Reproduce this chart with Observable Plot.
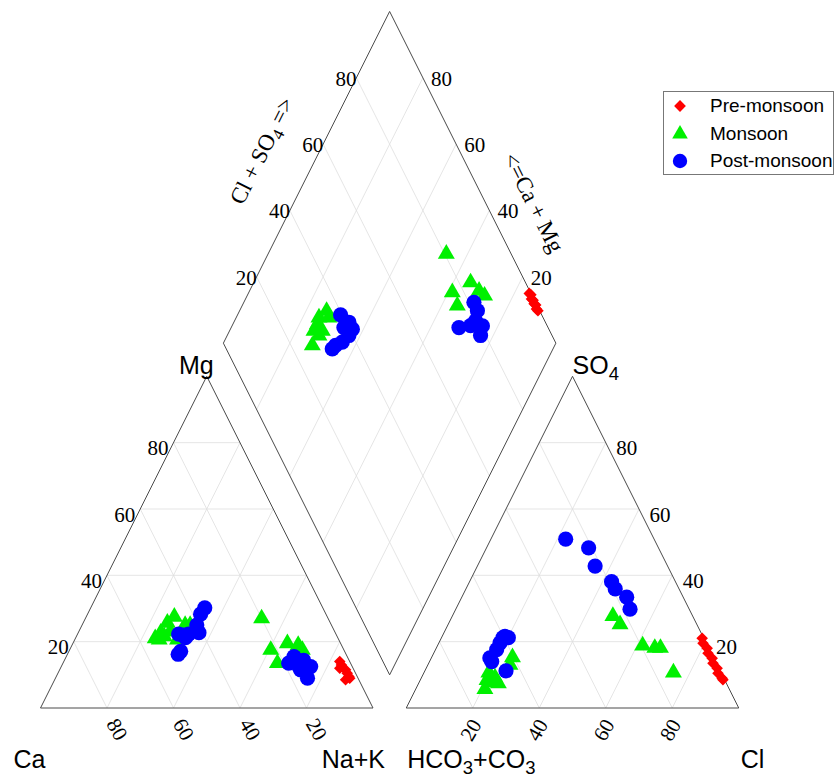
<!DOCTYPE html>
<html><head><meta charset="utf-8">
<script src="https://cdn.jsdelivr.net/npm/d3@7"></script>
<script src="https://cdn.jsdelivr.net/npm/@observablehq/plot@0.6"></script>
<style>
body{margin:0;background:#fff;}
#wrap{position:relative;width:836px;height:779px;overflow:hidden;}
#wrap svg{display:block;}
#legend{position:absolute;left:663px;top:91px;width:171px;height:84px;border:1px solid #777;box-sizing:border-box;background:#fff;font-family:"Liberation Sans",Arial,sans-serif;font-size:19px;color:#000;}
#legend .row{position:absolute;left:0;height:20px;line-height:20px;}
#legend .row span{position:absolute;left:46px;top:0;white-space:nowrap;}
#legend .row svg{position:absolute;left:6px;top:0;}
</style></head><body><div id="wrap"><div id="legend"></div></div>
<script>
// ---------- data ----------
const tickValues = [20, 40, 60, 80];
const seasons = ["Pre-monsoon", "Monsoon", "Post-monsoon"];
const seasonColors = ["#ff0000", "#00f000", "#0000ff"];
const seasonSymbols = ["diamond2", "triangle", "circle"];
const seasonRadius = [5.2, 6.3, 7.6];

// cation triangle: [Ca, Mg, Na+K] (%)
const preCations = [[3,14,83],[3,13,84],[4,12,84],[2.5,11.5,86],[2.5,10.5,87],[2.5,9.5,88],[4,8.5,87.5],[2.5,9,88.5]];
const monCations = [[46,27.5,26.5],[49,25.7,25.3],[52.5,22.7,24.8],[55,21,24],[54,20.6,25.4],[52,21.6,26.4],[44,25,31],[42.5,25,32.5],[48.5,20.6,30.9],[49.5,23,27.5],
  [20,27,53],[22,17.5,60.5],[22,13.5,64.5],[16,19.5,64.5],[13,19,68],[12.5,17.5,70]];
const postCations = [[35.5,30.2,34.3],[37.7,28.3,34],[40.5,25,34.5],[41,22.7,36.3],[44.3,22.3,33.4],[46,22,32],[47.3,22.3,30.4],[45.8,21.2,33],[50.5,16.2,33.3],[49.3,17.1,33.6],
  [16,15.5,68.5],[18.6,13.5,67.9],[16,12.4,71.6],[12.5,12.5,75],[15.2,9,75.8],[16,11.5,72.5],[13.7,14.4,71.9]];

// anion triangle: [HCO3+CO3, SO4, Cl] (%)
const preAnions = [[0.5,21,78.5],[1,19.5,79.5],[0.5,18,81.5],[1,16.5,82.5],[0.5,15,84.5],[1,13.5,85.5],[0.5,12,87.5],[1,10.5,88.5],[0.5,9,90.5],[0.5,8.5,91]];
const monAnions = [[60.4,15.3,24.3],[62.3,13,24.7],[69.8,10.7,19.5],[68.7,9.2,22.1],[70.3,7.8,21.9],[68.6,7.4,24],[73.5,5.7,20.8],[71.5,8.4,20.1],
  [24,27.7,48.3],[23.1,25.2,51.7],[19.5,18.8,61.7],[16.2,18.1,65.7],[14.5,18.1,67.4],[14.3,10.7,75]];
const postAnions = [[60.3,21.2,18.5],[58.7,21.2,20.1],[62,19.6,18.4],[64,17.6,18.4],[67.3,15.1,17.6],[67.3,14,18.7],[64.4,11.2,24.4],[59.5,21.6,18.9],
  [26.6,50.9,22.5],[21,48.3,30.7],[21.8,42.8,35.4],[19.2,38.1,42.7],[19.2,35.9,44.9],[17,33.4,49.6],[17.8,29.8,52.4]];

// diamond: [Ca+Mg, Cl+SO4] (%)
const preDiamond = [[15.5,99.5],[14.8,99.8],[14,99.3],[13.3,99.6],[12.5,99.4],[11.8,99.7],[11,99.3],[10.3,99.5]];
const monDiamond = [[73.8,35.9],[75.1,32.6],[74.6,31.1],[74.6,29.1],[72.4,29.9],[72.9,26.4],[72.1,31.6],[72.1,35.6],
  [46.4,80.5],[38.8,76.5],[35.3,76],[34.8,83.5],[31,84.8],[28.6,85.7]];
const postDiamond = [[69,39.5],[65.4,40.9],[63.3,40.9],[63.4,38.9],[64.4,35.9],[65.9,33.4],[66.4,31.9],[66.1,38.6],
  [30.8,81.5],[28.5,81.3],[27.5,79.2],[31.5,73.2],[24.7,80.5],[23.8,78.5],[28.3,77]];

const cornerLabels = ["Ca", "Na+K", "Mg", "HCO_3+CO_3", "Cl", "SO_4"];
const diamondTitles = ["Cl + SO_4 =>", "<=Ca + Mg"];

// ---------- geometry (ternary -> plane units) ----------
const H = Math.sqrt(3) / 2, GAP = 10;
function cationXY([ca, mg, na]) { const t = ca + mg + na; mg = 100 * mg / t; na = 100 * na / t; return [na + mg / 2, mg * H]; }
function anionXY([hc, so4, cl]) { const t = hc + so4 + cl; so4 = 100 * so4 / t; cl = 100 * cl / t; return [100 + GAP + cl + so4 / 2, so4 * H]; }
function diamondXY([camg, clso4]) { return [100 + GAP / 2 + (clso4 - camg) / 2, GAP * H + (camg + clso4) * H]; }
const seg = (a, b) => ({x1: a[0], y1: a[1], x2: b[0], y2: b[1]});
const pt = (p, extra) => Object.assign({x: p[0], y: p[1]}, extra);

const grid = [];
for (const v of tickValues) {
  grid.push(seg(cationXY([100 - v, v, 0]), cationXY([0, v, 100 - v])));
  grid.push(seg(cationXY([v, 0, 100 - v]), cationXY([v, 100 - v, 0])));
  grid.push(seg(cationXY([100 - v, 0, v]), cationXY([0, 100 - v, v])));
  grid.push(seg(anionXY([100 - v, v, 0]), anionXY([0, v, 100 - v])));
  grid.push(seg(anionXY([v, 0, 100 - v]), anionXY([v, 100 - v, 0])));
  grid.push(seg(anionXY([100 - v, 0, v]), anionXY([0, 100 - v, v])));
  grid.push(seg(diamondXY([0, v]), diamondXY([100, v])));
  grid.push(seg(diamondXY([v, 0]), diamondXY([v, 100])));
}
const outline = [
  seg(cationXY([100,0,0]), cationXY([0,0,100])), seg(cationXY([0,0,100]), cationXY([0,100,0])), seg(cationXY([0,100,0]), cationXY([100,0,0])),
  seg(anionXY([100,0,0]), anionXY([0,0,100])), seg(anionXY([0,0,100]), anionXY([0,100,0])), seg(anionXY([0,100,0]), anionXY([100,0,0])),
  seg(diamondXY([0,0]), diamondXY([100,0])), seg(diamondXY([100,0]), diamondXY([100,100])),
  seg(diamondXY([100,100]), diamondXY([0,100])), seg(diamondXY([0,100]), diamondXY([0,0]))
];

const groups = [[preCations, preAnions, preDiamond], [monCations, monAnions, monDiamond], [postCations, postAnions, postDiamond]];
const points = [];
groups.forEach(([c, a, d], i) => {
  c.forEach(v => points.push(pt(cationXY(v), {season: seasons[i]})));
  a.forEach(v => points.push(pt(anionXY(v), {season: seasons[i]})));
  d.forEach(v => points.push(pt(diamondXY(v), {season: seasons[i]})));
});

const lbl = (p, v) => pt(p, {label: String(v)});
const mgTicks = tickValues.map(v => lbl(cationXY([100 - v, v, 0]), v));
const caTicks = tickValues.map(v => lbl(cationXY([v, 0, 100 - v]), v));
const so4Ticks = tickValues.map(v => lbl(anionXY([0, v, 100 - v]), v));
const clTicks = tickValues.map(v => lbl(anionXY([100 - v, 0, v]), v));
const dLeftTicks = tickValues.map(v => lbl(diamondXY([100, v]), v));
const dRightTicks = tickValues.map(v => lbl(diamondXY([v, 100]), v));

const corners = [
  pt(cationXY([100,0,0]), {label: cornerLabels[0], anchor: "start", dx: -27}),
  pt(cationXY([0,0,100]), {label: cornerLabels[1], anchor: "end", dx: 12}),
  pt(anionXY([100,0,0]), {label: cornerLabels[3], anchor: "start", dx: 1}),
  pt(anionXY([0,0,100]), {label: cornerLabels[4], anchor: "start", dx: 2})
];
const tops = [
  pt(cationXY([0,100,0]), {label: cornerLabels[2], anchor: "end", dx: 7}),
  pt(anionXY([0,100,0]), {label: cornerLabels[5], anchor: "start", dx: 0})
];

const serif = "'Liberation Serif','Times New Roman',serif";
const sans = "'Liberation Sans',Arial,sans-serif";
const tickFont = {fontFamily: serif, fontSize: 21, fill: "#000"};

const chart = Plot.plot({
  width: 836, height: 779, margin: 0,
  x: {domain: [0, 210], range: [40, 738.25], axis: null},
  y: {domain: [0, 180], range: [707.5, 707.5 - 180 * 3.83], axis: null},
  style: {background: "#fff", overflow: "visible"},
  marks: [
    Plot.link(grid, {x1: "x1", y1: "y1", x2: "x2", y2: "y2", stroke: "#dedede", strokeWidth: 0.8}),
    Plot.link(outline, {x1: "x1", y1: "y1", x2: "x2", y2: "y2", stroke: "#4a4a4a", strokeWidth: 1}),
    ...seasons.map((s, i) => Plot.dot(points.filter(p => p.season === s), {
      x: "x", y: "y", symbol: seasonSymbols[i], fill: seasonColors[i], r: seasonRadius[i]
    })),
    Plot.text(mgTicks, {x: "x", y: "y", text: "label", textAnchor: "end", dx: -5, dy: 6, ...tickFont}),
    Plot.text(so4Ticks, {x: "x", y: "y", text: "label", textAnchor: "start", dx: 10.5, dy: 6, ...tickFont}),
    Plot.text(caTicks, {x: "x", y: "y", text: "label", textAnchor: "start", rotate: 60, dx: 4.7, dy: 12.5, ...tickFont}),
    Plot.text(clTicks, {x: "x", y: "y", text: "label", textAnchor: "end", rotate: -60, dx: 3.6, dy: 13, ...tickFont}),
    Plot.text(dLeftTicks, {x: "x", y: "y", text: "label", textAnchor: "end", dx: 0, dy: 1, ...tickFont}),
    Plot.text(dRightTicks, {x: "x", y: "y", text: "label", textAnchor: "start", dx: 8, dy: 1, ...tickFont}),
    Plot.text([pt(diamondXY([100, 51]), {label: diamondTitles[0]})], {x: "x", y: "y", text: "label", rotate: -63.4, dx: -46, dy: -23, fontFamily: serif, fontSize: 23, fill: "#000"}),
    Plot.text([pt(diamondXY([36.6, 100]), {label: diamondTitles[1]})], {x: "x", y: "y", text: "label", rotate: 63.4, dx: 38.3, dy: -19, fontFamily: serif, fontSize: 23, fill: "#000"}),
    ...corners.map(c => Plot.text([c], {x: "x", y: "y", text: "label", textAnchor: c.anchor, dx: c.dx, dy: 52, fontFamily: sans, fontSize: 25, fill: "#000"})),
    ...tops.map(c => Plot.text([c], {x: "x", y: "y", text: "label", textAnchor: c.anchor, dx: c.dx, dy: -10, fontFamily: sans, fontSize: 25, fill: "#000"}))
  ]
});
const wrap = document.getElementById("wrap");
wrap.insertBefore(chart, wrap.firstChild);

// subscripts: "_d" -> subscript tspan
for (const t of chart.querySelectorAll("text")) {
  const s = t.textContent;
  if (!s.includes("_")) continue;
  const fs = parseFloat(getComputedStyle(t).fontSize) || 20;
  t.textContent = "";
  const parts = s.split(/_(\w)/);
  parts.forEach((p, i) => {
    if (!p) return;
    const ts = document.createElementNS("http://www.w3.org/2000/svg", "tspan");
    ts.textContent = p;
    if (i % 2 === 1) { ts.setAttribute("font-size", (fs * 0.74).toFixed(1)); ts.setAttribute("dy", (fs * 0.22).toFixed(1)); }
    else if (i > 0) { ts.setAttribute("dy", (-fs * 0.22).toFixed(1)); }
    t.appendChild(ts);
  });
}

// legend
const legend = document.getElementById("legend");
const legendTops = [4, 32, 59];
seasons.forEach((s, i) => {
  const row = document.createElement("div");
  row.className = "row";
  row.style.top = legendTops[i] + "px";
  const sym = {diamond2: d3.symbolDiamond2, triangle: d3.symbolTriangle, circle: d3.symbolCircle}[seasonSymbols[i]];
  const rr = [5.3, 5.8, 7.2][i];
  const path = d3.symbol(sym, Math.PI * rr * rr)();
  row.innerHTML = `<svg width="20" height="20" viewBox="-10 -10 20 20"><path d="${path}" fill="${seasonColors[i]}"/></svg><span>${s}</span>`;
  legend.appendChild(row);
});
</script>
</body></html>
